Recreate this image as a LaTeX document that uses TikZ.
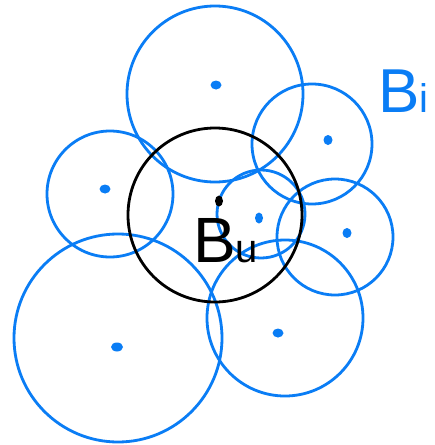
\documentclass[tikz,border=0pt]{standalone}
\usepackage{fontspec}
\setsansfont{Liberation Sans}
\definecolor{penblue}{RGB}{10,125,245}
\begin{document}
\begin{tikzpicture}[x=1pt,y=-1pt,
  ball/.style={draw=penblue,line width=2.8pt},
  uball/.style={draw=black,line width=2.8pt},
  ctr/.style={fill=penblue},
  lbl/.style={inner sep=0pt,font=\sffamily}]
\useasboundingbox (0,0) rectangle (435,445);
\fill[white] (0,0) rectangle (435,445);
% blue balls B_i
\draw[ball] (215,94) circle (88);
\draw[ball] (312,144) circle (60);
\draw[ball] (110,194) circle (63);
\draw[ball] (261,214) circle (44);
\draw[ball] (335,237) circle (58);
\draw[ball] (285,318) circle (78);
\draw[ball] (118,338) circle (104);
% black ball B_u
\draw[uball] (215,215) circle (87);
% centres
\fill[ctr] (216,85) ellipse (5.5 and 4.5);
\fill[ctr] (328,140) ellipse (4.5 and 5);
\fill[ctr] (105,189) ellipse (5.5 and 4.5);
\fill[ctr] (259,218) ellipse (4 and 5.5);
\fill[ctr] (347,233) ellipse (4.5 and 5);
\fill[ctr] (278,333) ellipse (5.5 and 4.5);
\fill[ctr] (117,347) ellipse (6 and 4.5);
\fill[black] (219,201) ellipse (4 and 5.5);
% labels
\node[lbl,text=penblue,anchor=base west] (bi) at (378,112)
  {\fontsize{62}{62}\selectfont B\fontsize{40}{40}\selectfont i};
\node[lbl,text=black,anchor=base west] (bu) at (193,262)
  {\fontsize{64}{64}\selectfont B\fontsize{40}{40}\selectfont u};
\end{tikzpicture}
\end{document}
